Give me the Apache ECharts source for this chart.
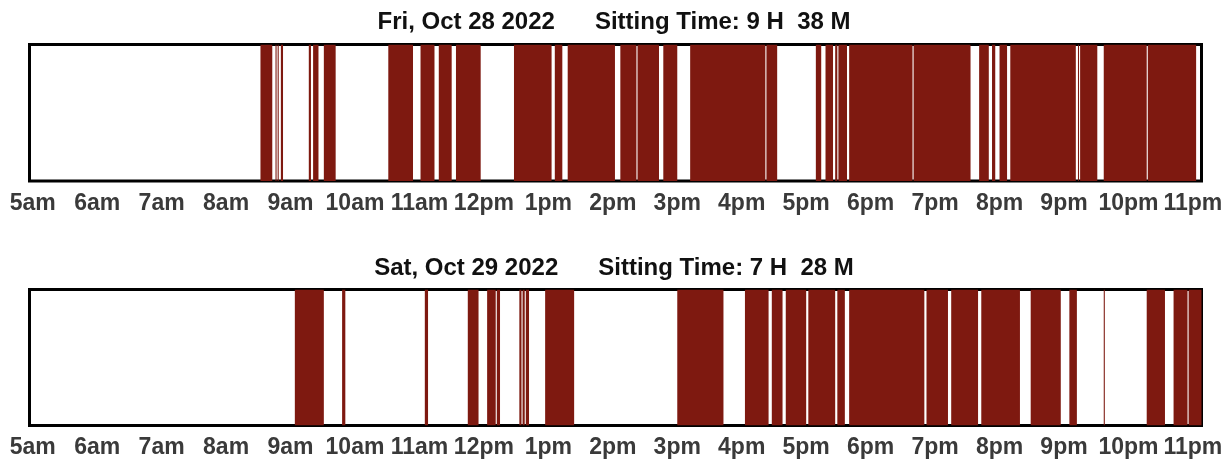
<!DOCTYPE html>
<html>
<head>
<meta charset="utf-8">
<title>Sitting Time</title>
<script src="https://cdn.jsdelivr.net/npm/echarts@6/dist/echarts.min.js"></script>
<style>
    html, body { margin: 0; padding: 0; background: #fff; }
    #charts-con { width: 1228px; height: 464px; }
</style>
</head>
<body>
<div id="charts-con"></div>
<script>
    // 每天的标题
    var dayLabels = ['Fri, Oct 28 2022', 'Sat, Oct 29 2022'];
    var sittingTimes = ['9 H  38 M', '7 H  28 M'];

    // 坐着的时间段 [开始, 结束]
    var friSitting = [
        ['08:32', '08:43'], ['08:46', '08:47'], ['08:48', '08:49'], ['08:51', '08:53'],
        ['09:17', '09:19'], ['09:21', '09:26'], ['09:31', '09:42'],
        ['10:31', '10:54'], ['11:01', '11:14'], ['11:18', '11:30'], ['11:34', '11:57'],
        ['12:28', '13:03'], ['13:06', '13:13'], ['13:18', '14:02'],
        ['14:07', '14:22'], ['14:23', '14:43'], ['14:47', '15:00'],
        ['15:12', '16:22'], ['16:23', '16:33'],
        ['17:09', '17:14'], ['17:18', '17:25'], ['17:27', '17:29'], ['17:30', '17:38'],
        ['17:40', '18:39'], ['18:40', '19:33'],
        ['19:41', '19:50'], ['19:53', '19:56'], ['20:00', '20:07'],
        ['20:10', '21:11'], ['21:13', '21:14'], ['21:15', '21:31'],
        ['21:37', '22:17'], ['22:18', '23:03']
    ];
    var satSitting = [
        ['09:04', '09:31'], ['09:48', '09:51'], ['11:05', '11:08'],
        ['11:45', '11:55'], ['12:03', '12:11'], ['12:12', '12:15'],
        ['12:33', '12:35'], ['12:36', '12:38'], ['12:39', '12:42'],
        ['12:57', '13:24'],
        ['15:00', '15:43'], ['16:03', '16:25'], ['16:28', '16:38'], ['16:41', '17:00'],
        ['17:02', '17:27'], ['17:29', '17:36'], ['17:40', '18:50'], ['18:52', '19:12'],
        ['19:15', '19:40'], ['19:43', '20:19'], ['20:29', '20:57'], ['21:05', '21:12'],
        ['21:37', '21:38'], ['22:17', '22:34'], ['22:42', '22:55'], ['22:56', '23:08']
    ];

    // 刻度 (小时)
    var tickHours = [5, 6, 7, 8, 9, 10, 11, 12, 13, 14, 15, 16, 17, 18, 19, 20, 21, 22, 23];
    var tickLabels = ['5am', '6am', '7am', '8am', '9am', '10am', '11am', '12pm', '1pm', '2pm',
        '3pm', '4pm', '5pm', '6pm', '7pm', '8pm', '9pm', '10pm', '11pm'];

    var barColor = '#7e1910';

    function toMin(s) {
        var p = s.split(':');
        return parseInt(p[0]) * 60 + parseInt(p[1]);
    }

    function toData(arr) {
        return arr.map(function (d) {
            return [toMin(d[0]), toMin(d[1])];
        });
    }

    var tickValues = tickHours.map(function (h) { return h * 60; });

    function makeXAxis(idx) {
        return {
            type: 'value',
            gridIndex: idx,
            min: 297,
            max: 1388,
            axisLine: { show: false },
            axisTick: { show: false },
            splitLine: { show: false },
            axisLabel: {
                customValues: tickValues,
                margin: 11,
                color: '#3a3a3a',
                fontSize: 23,
                fontWeight: 'bold',
                fontFamily: 'Liberation Sans, Arial, sans-serif',
                formatter: function (v) {
                    return tickLabels[tickValues.indexOf(v)];
                }
            }
        };
    }

    function makeYAxis(idx) {
        return { type: 'value', gridIndex: idx, min: 0, max: 1, show: false };
    }

    function renderBar(params, api) {
        var s = api.coord([api.value(0), 1]);
        var e = api.coord([api.value(1), 0]);
        return {
            type: 'rect',
            shape: { x: s[0], y: s[1], width: e[0] - s[0], height: e[1] - s[1] },
            style: { fill: barColor }
        };
    }

    function makeSeries(idx, data) {
        return {
            type: 'custom',
            xAxisIndex: idx,
            yAxisIndex: idx,
            renderItem: renderBar,
            encode: { x: [0, 1] },
            clip: true,
            silent: true,
            data: toData(data)
        };
    }

    var titleStyle = {
        color: '#111',
        fontSize: 24,
        fontWeight: 'bold',
        fontFamily: 'Liberation Sans, Arial, sans-serif'
    };

    var myChart = echarts.init(document.getElementById('charts-con'));
    var option = {
        animation: false,
        title: [
            { text: dayLabels[0] + '      Sitting Time: ' + sittingTimes[0], left: 'center', top: 5, textStyle: titleStyle },
            { text: dayLabels[1] + '      Sitting Time: ' + sittingTimes[1], left: 'center', top: 251, textStyle: titleStyle }
        ],
        grid: [
            { left: 29.5, top: 44.5, width: 1172, height: 136.5, show: true, borderColor: '#000', borderWidth: 3, backgroundColor: '#fff' },
            { left: 29.5, top: 289.5, width: 1172, height: 136, show: true, borderColor: '#000', borderWidth: 3, backgroundColor: '#fff' }
        ],
        xAxis: [makeXAxis(0), makeXAxis(1)],
        yAxis: [makeYAxis(0), makeYAxis(1)],
        series: [makeSeries(0, friSitting), makeSeries(1, satSitting)]
    };
    myChart.setOption(option);
</script>
</body>
</html>
